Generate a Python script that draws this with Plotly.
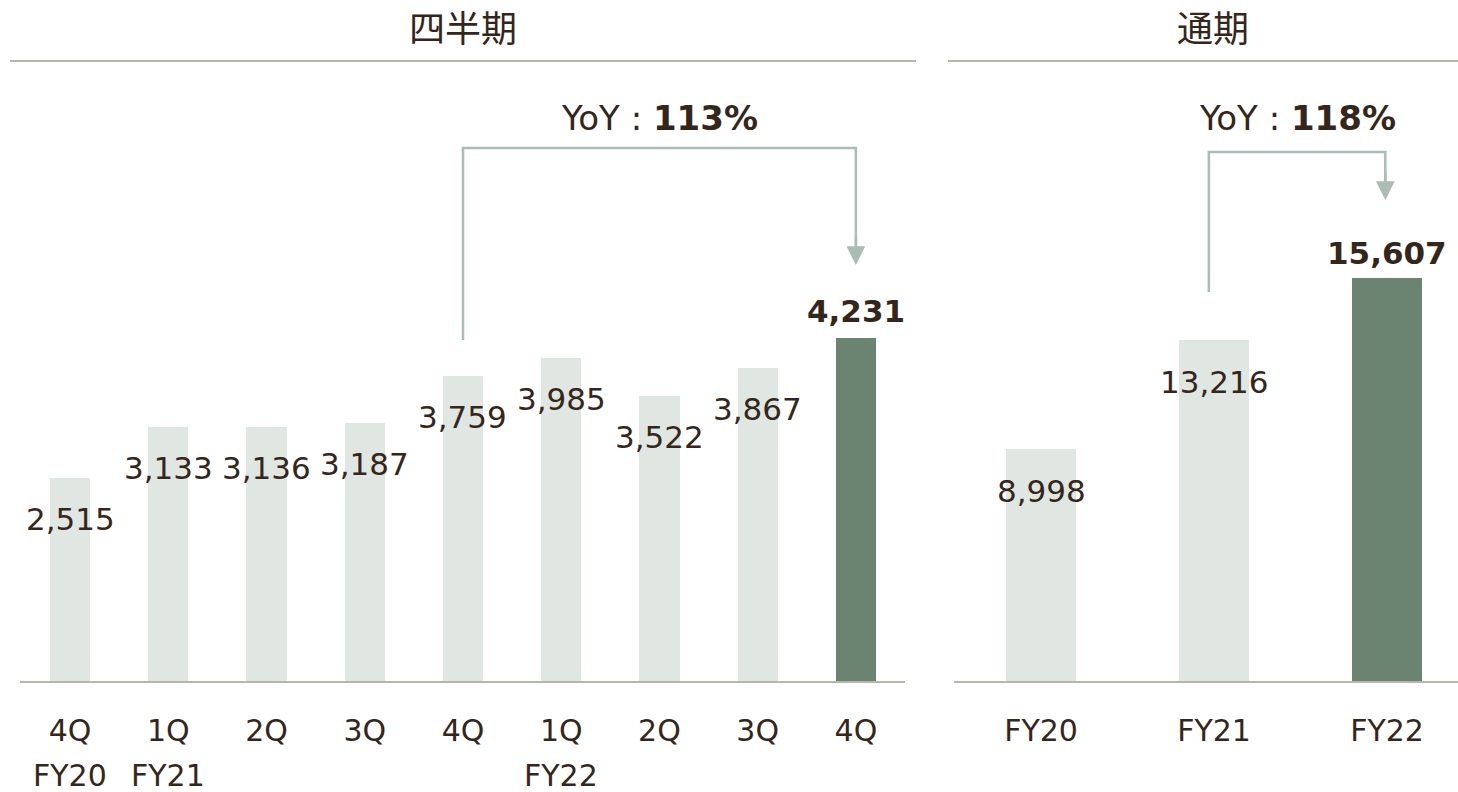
import plotly.graph_objects as go

# ---------------- data ----------------
q_labels = ["4Q", "1Q", "2Q", "3Q", "4Q", "1Q", "2Q", "3Q", "4Q"]
q_values = [2515, 3133, 3136, 3187, 3759, 3985, 3522, 3867, 4231]
q_fy_labels = {0: "FY20", 1: "FY21", 5: "FY22"}

y_labels = ["FY20", "FY21", "FY22"]
y_values = [8998, 13216, 15607]

q_title = "四半期"
y_title = "通期"
q_yoy = "113%"
y_yoy = "118%"

# ---------------- style ----------------
W, H = 1458, 792
LIGHT = "#e0e6e2"
DARK = "#6b8472"
TXT = "#35261c"
BRACKET = "#a9bdb2"
RULE = "#b5b7aa"
FONT = "Verdana, DejaVu Sans, Noto Sans CJK JP, sans-serif"
NUM_SIZE = 31
TICK_SIZE = 30
YOY_SIZE = 34
TITLE_SIZE = 36


def px(xp):
    return xp / W


def py(yp):
    return 1 - yp / H


base_y = 682
top_y = 60

fig = go.Figure()

q_x = list(range(len(q_values)))
y_x = list(range(len(y_values)))

fig.add_trace(go.Bar(
    x=q_x, y=q_values, width=0.41,
    marker=dict(color=[LIGHT] * (len(q_values) - 1) + [DARK], line=dict(width=0)),
    xaxis="x", yaxis="y", hoverinfo="skip", showlegend=False,
))
fig.add_trace(go.Bar(
    x=y_x, y=y_values, width=0.405,
    marker=dict(color=[LIGHT] * (len(y_values) - 1) + [DARK], line=dict(width=0)),
    xaxis="x2", yaxis="y2", hoverinfo="skip", showlegend=False,
))

ydom = [py(base_y), py(top_y)]
q_scale = (base_y - 338) / 4231.0
y_scale = (base_y - 278) / 15607.0

fig.update_layout(
    width=W, height=H,
    margin=dict(l=0, r=0, t=0, b=0),
    paper_bgcolor="white", plot_bgcolor="white",
    font=dict(family=FONT, color=TXT, size=NUM_SIZE),
    bargap=0,
    xaxis=dict(domain=[px(20), px(905)], range=[-0.51, 8.5],
               tickmode="array", tickvals=q_x, ticktext=q_labels,
               showgrid=False, zeroline=False, showline=False, ticks="",
               ticklabelstandoff=28, tickfont=dict(size=TICK_SIZE, color=TXT),
               fixedrange=True),
    yaxis=dict(domain=ydom, range=[0, (base_y - top_y) / q_scale],
               visible=False, fixedrange=True),
    xaxis2=dict(domain=[px(954), 1], range=[-0.503, 2.41], anchor="y2",
                tickmode="array", tickvals=y_x, ticktext=y_labels,
                showgrid=False, zeroline=False, showline=False, ticks="",
                ticklabelstandoff=28, tickfont=dict(size=TICK_SIZE, color=TXT),
                fixedrange=True),
    yaxis2=dict(domain=ydom, range=[0, (base_y - top_y) / y_scale],
                anchor="x2", visible=False, fixedrange=True),
)

shapes = []
# baselines
shapes.append(dict(type="line", xref="x domain", yref="y domain", x0=0, x1=1, y0=0, y1=0,
                   line=dict(color=RULE, width=2)))
shapes.append(dict(type="line", xref="x2 domain", yref="y2 domain", x0=0, x1=1, y0=0, y1=0,
                   line=dict(color=RULE, width=2)))
# header rules
shapes.append(dict(type="line", xref="paper", yref="paper", x0=px(10), x1=px(916),
                   y0=py(61), y1=py(61), line=dict(color=RULE, width=2)))
shapes.append(dict(type="line", xref="paper", yref="paper", x0=px(948), x1=1,
                   y0=py(61), y1=py(61), line=dict(color=RULE, width=2)))
# brackets (left part + top)
shapes.append(dict(type="path", xref="x", yref="paper",
                   path=f"M 4,{py(340)} L 4,{py(148)} L 8,{py(148)} L 8,{py(245)}",
                   line=dict(color=BRACKET, width=2.5)))
shapes.append(dict(type="path", xref="x2", yref="paper",
                   path=f"M 0.97,{py(292)} L 0.97,{py(152)} L 1.99,{py(152)} L 1.99,{py(180)}",
                   line=dict(color=BRACKET, width=2.5)))
fig.update_layout(shapes=shapes)

ann = []
# arrowheads
ann.append(dict(xref="x", yref="paper", x=8, y=py(265), ax=0, ay=-30, text="",
                showarrow=True, arrowhead=2, arrowsize=1.5, arrowwidth=2.5,
                arrowcolor=BRACKET, standoff=0))
ann.append(dict(xref="x2", yref="paper", x=1.99, y=py(200), ax=0, ay=-30, text="",
                showarrow=True, arrowhead=2, arrowsize=1.5, arrowwidth=2.5,
                arrowcolor=BRACKET, standoff=0))

# value labels
for i, v in enumerate(q_values):
    last = i == len(q_values) - 1
    ann.append(dict(xref="x", yref="y", x=i, y=v, text=(f"<b>{v:,}</b>" if last else f"{v:,}"),
                    showarrow=False, xanchor="center", yanchor="middle",
                    yshift=(27 if last else -41),
                    font=dict(size=NUM_SIZE, color=TXT)))
for i, v in enumerate(y_values):
    last = i == len(y_values) - 1
    ann.append(dict(xref="x2", yref="y2", x=i, y=v, text=(f"<b>{v:,}</b>" if last else f"{v:,}"),
                    showarrow=False, xanchor="center", yanchor="middle",
                    yshift=(25 if last else -42),
                    font=dict(size=NUM_SIZE, color=TXT)))

# FY row under quarters
for i, lab in q_fy_labels.items():
    ann.append(dict(xref="x", yref="paper", x=i, y=py(775), text=lab, showarrow=False,
                    xanchor="center", yanchor="middle", font=dict(size=TICK_SIZE, color=TXT)))

# YoY texts
ann.append(dict(xref="x", yref="paper", x=6, y=py(118), text=f"YoY : <b>{q_yoy}</b>",
                showarrow=False, xanchor="center", yanchor="middle",
                font=dict(size=YOY_SIZE, color=TXT)))
ann.append(dict(xref="x2", yref="paper", x=1.48, y=py(118), text=f"YoY : <b>{y_yoy}</b>",
                showarrow=False, xanchor="center", yanchor="middle",
                font=dict(size=YOY_SIZE, color=TXT)))

# panel titles
ann.append(dict(xref="paper", yref="paper", x=px(463), y=py(30), text=q_title, showarrow=False,
                xanchor="center", yanchor="middle", font=dict(size=TITLE_SIZE, color=TXT)))
ann.append(dict(xref="paper", yref="paper", x=px(1213), y=py(30), text=y_title, showarrow=False,
                xanchor="center", yanchor="middle", font=dict(size=TITLE_SIZE, color=TXT)))

fig.update_layout(annotations=ann)

fig.write_html("out.html", config={"displayModeBar": False},
               post_script="document.body.style.margin='0';document.body.style.overflow='hidden';")
